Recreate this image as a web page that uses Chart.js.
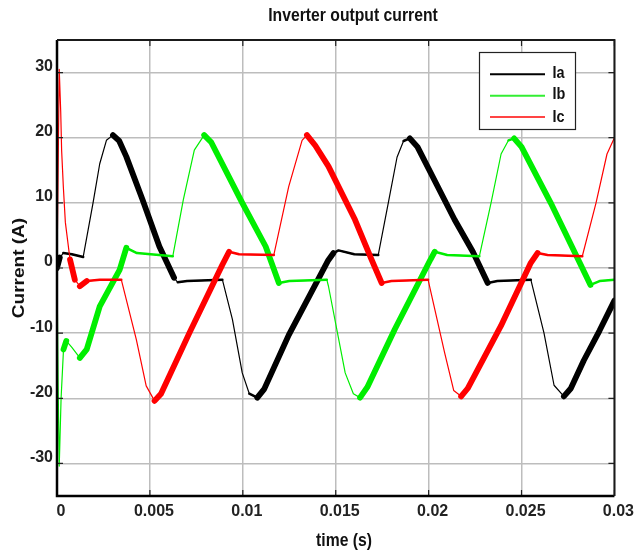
<!DOCTYPE html>
<html>
<head>
<meta charset="utf-8">
<script src="https://cdn.jsdelivr.net/npm/chart.js@4"></script>
<style>
html,body{margin:0;padding:0;background:#fff;}
#wrap{width:636px;height:553px;}
</style>
</head>
<body>
<div id="wrap"><canvas id="c" width="636" height="553"></canvas></div>
<script>
// ---- data (time in ms, current in A) ----
const seriesNames = ["Ia", "Ib", "Ic"];
const seriesColors = ["#000000", "#00ee00", "#ff0000"];
const legendColors = ["#000000", "#33ee33", "#ff4444"];

const iaTimeMs = [0,0.15,0.34,0.8,1.41,1.94,2.3,2.66,3.01,3.35,3.73,4.6,5.51,6.3,6.5,7.0,8.9,9.44,9.97,10.35,10.78,11.15,12.47,13.6,14.6,14.88,15.15,16.0,17.29,17.83,18.3,18.65,18.99,19.4,21.4,22.38,23.18,23.7,25.5,26.21,26.75,27.28,27.65,28.35,29.2,30];
const iaCurrent = [0,1.6,2.3,2.1,1.7,10,16,19.6,20.4,19.5,17.1,10.5,3.3,-1.5,-2.2,-2.0,-1.8,-7.9,-16.1,-19.3,-19.9,-18.6,-10.3,-4.2,1.2,2.3,2.7,2.1,2.0,10,17,19.5,19.9,18.6,7.4,2.5,-2.3,-2.0,-1.8,-10,-18,-19.7,-18.5,-14.2,-9.6,-5.0];

const ibTimeMs = [0,0.06,0.12,0.22,0.35,0.5,0.8,1.23,1.6,2.3,3.37,3.73,4.3,6.23,6.8,7.39,7.92,8.3,9.97,11.23,11.94,12.5,14.52,14.61,15.51,15.95,16.31,16.7,18.18,20.1,20.33,21.0,22.73,23.36,23.9,24.3,24.6,25.0,26.57,28.1,28.71,29.2,30];
const ibCurrent = [0,-18,-30.4,-20,-12.5,-11.2,-12.2,-13.8,-12.5,-5.9,-0.3,3.1,2.3,1.8,10.5,18.1,20.4,19.3,10,3.3,-2.3,-2.0,-1.8,-2.8,-16.1,-19.3,-19.9,-18.3,-9.4,1.3,2.5,2.0,1.8,10,17.5,19.6,19.9,18.6,10,1.0,-2.6,-2.0,-1.8];

const icTimeMs = [0,0.12,0.2,0.25,0.34,0.45,0.7,0.96,1.23,1.6,2.3,3.46,4.27,4.8,5.25,5.6,7.12,8.9,9.26,9.8,11.67,12.47,13.19,13.45,13.9,14.61,16.04,16.93,17.47,18.0,19.97,20.86,21.35,21.75,22.1,23.89,25.5,25.86,26.4,28.27,29.01,29.6,30];
const icCurrent = [0,30.5,24,18,12.5,7,1.3,-1.8,-2.8,-2.0,-1.8,-1.8,-11,-18.1,-20.4,-19.3,-10,0.5,2.5,2.1,2.0,12.5,19.6,20.4,18.8,15.6,7.4,1.3,-2.3,-2.0,-1.8,-13,-18.8,-19.7,-18.5,-8.9,0.8,2.3,2.0,1.8,10,17.5,20];

const xTicks = [0,0.005,0.01,0.015,0.02,0.025,0.03];
const xTickLabels = ["0","0.005","0.01","0.015","0.02","0.025","0.03"];
const yTicks = [-30,-20,-10,0,10,20,30];
const yTickLabels = ["-30","-20","-10","0","10","20","30"];

const titleText = "Inverter output current";
const xTitle = "time (s)";
const yTitle = "Current (A)";

// ---- build ----
const allT = [iaTimeMs, ibTimeMs, icTimeMs];
const allV = [iaCurrent, ibCurrent, icCurrent];

// classify a piece between two samples: switching edge, noisy plateau, or slow ramp with heavy ripple
function classify(t0, y0, t1, y1){
  const dy = y1 - y0;
  const slope = Math.abs(dy / (t1 - t0));
  if (slope < 1.5) return 'plateau';
  if (slope > 12) return 'edge';
  if (dy < 0 && y0 > -1.5) return 'ramp';
  if (dy > 0 && y0 < 1.5) return 'ramp';
  return 'edge';
}
function fullData(tms, vals){ return tms.map((t,i)=>({x:t/1000, y:vals[i]})); }
function partData(tms, vals, kind){
  const out = []; let open = false;
  for (let k = 0; k < tms.length - 1; k++){
    if (classify(tms[k], vals[k], tms[k+1], vals[k+1]) === kind){
      if (!open) out.push({x: tms[k]/1000, y: vals[k]});
      out.push({x: tms[k+1]/1000, y: vals[k+1]});
      open = true;
    } else if (open){
      out.push({x: tms[k]/1000, y: null});
      open = false;
    }
  }
  return out;
}

const datasets = [];
seriesNames.forEach((n,i)=>{
  const base = (3 - i) * 10;
  const common = { borderColor: seriesColors[i], pointRadius: 0, tension: 0, fill: false,
                   spanGaps: false, borderCapStyle: 'round', borderJoinStyle: 'round' };
  datasets.push(Object.assign({ label: n, data: fullData(allT[i], allV[i]), borderWidth: 1.2, order: base }, common));
  datasets.push(Object.assign({ label: n + ' plateau', data: partData(allT[i], allV[i], 'plateau'), borderWidth: 2.5, order: base - 1 }, common));
  datasets.push(Object.assign({ label: n + ' ripple', data: partData(allT[i], allV[i], 'ramp'), borderWidth: 5.8, order: base - 2 }, common));
});

const NARROW = '"Liberation Sans Narrow", "Liberation Sans", Arial, sans-serif';

function txt(ctx, s, x, y, font, align, baseline, rot, squeeze){
  ctx.save();
  ctx.translate(x, y);
  if (rot) { ctx.rotate(-Math.PI/2); ctx.scale(1, squeeze); }
  else ctx.scale(squeeze, 1);
  ctx.font = font;
  ctx.fillStyle = '#111';
  ctx.textAlign = align;
  ctx.textBaseline = baseline;
  ctx.fillText(s, 0, 0);
  ctx.restore();
}

const framePlugin = {
  id: 'frame',
  afterDraw(chart){
    const ctx = chart.ctx;
    const a = chart.chartArea;
    const xs = chart.scales.x, ys = chart.scales.y;
    ctx.save();
    ctx.strokeStyle = '#222';
    ctx.lineWidth = 1.2;
    xTicks.forEach(v=>{
      const px = xs.getPixelForValue(v);
      ctx.beginPath();
      ctx.moveTo(px, a.bottom); ctx.lineTo(px, a.bottom - 6);
      ctx.moveTo(px, a.top); ctx.lineTo(px, a.top + 6);
      ctx.stroke();
    });
    yTicks.forEach(v=>{
      const py = ys.getPixelForValue(v);
      ctx.beginPath();
      ctx.moveTo(a.left, py); ctx.lineTo(a.left + 6, py);
      ctx.moveTo(a.right, py); ctx.lineTo(a.right - 6, py);
      ctx.stroke();
    });
    ctx.strokeStyle = '#000';
    ctx.lineWidth = 2.5;
    ctx.beginPath();
    ctx.moveTo(a.left, a.top); ctx.lineTo(a.left, a.bottom); ctx.lineTo(a.right, a.bottom);
    ctx.stroke();
    ctx.strokeStyle = '#1a1a1a';
    ctx.lineWidth = 2;
    ctx.beginPath();
    ctx.moveTo(a.left, a.top); ctx.lineTo(a.right, a.top); ctx.lineTo(a.right, a.bottom);
    ctx.stroke();

    const lx = 479.5, ly = 52.5, lw = 96, lh = 77;
    ctx.fillStyle = '#fff';
    ctx.fillRect(lx, ly, lw, lh);
    ctx.strokeStyle = '#222';
    ctx.lineWidth = 1.2;
    ctx.strokeRect(lx, ly, lw, lh);
    const rowY = [74.3, 95.7, 117];
    const baseY = [77.5, 98.5, 121.5];
    seriesNames.forEach((n,i)=>{
      ctx.strokeStyle = legendColors[i];
      ctx.lineWidth = 2;
      ctx.beginPath();
      ctx.moveTo(490, rowY[i]); ctx.lineTo(545, rowY[i]);
      ctx.stroke();
      txt(ctx, n, 552.5, baseY[i], 'bold 17px "Liberation Sans", Arial', 'left', 'alphabetic', false, 0.85);
    });

    txt(ctx, titleText, 353, 15.5, 'bold 18.5px "Liberation Sans", Arial', 'center', 'middle', false, 0.85);
    txt(ctx, xTitle, 344, 540.5, 'bold 18.5px "Liberation Sans", Arial', 'center', 'middle', false, 0.85);
    txt(ctx, yTitle, 20, 268, 'bold 19px "Liberation Sans", Arial', 'center', 'middle', true, 0.85);
    ctx.restore();
  }
};

new Chart(document.getElementById('c'), {
  type: 'line',
  data: { datasets },
  options: {
    responsive: false,
    animation: false,
    devicePixelRatio: 1,
    layout: { padding: { top: 40, right: 18, left: 0, bottom: 0 } },
    plugins: { legend: { display: false }, tooltip: { enabled: false }, title: { display: false } },
    scales: {
      x: {
        type: 'linear', min: 0, max: 0.03,
        afterBuildTicks: s => { s.ticks = xTicks.map(v=>({value:v})); },
        afterFit: s => { s.height = 57; },
        grid: { color: '#bdbdbd', lineWidth: 1.5, drawTicks: false },
        border: { display: false },
        ticks: {
          autoSkip: false, maxRotation: 0, padding: 6, labelOffset: 4,
          color: '#222',
          font: { family: NARROW, size: 16, weight: 'bold' },
          callback: (v) => { const k = xTicks.findIndex(t=>Math.abs(t-v)<1e-9); return k>=0 ? xTickLabels[k] : ''; }
        }
      },
      y: {
        type: 'linear', min: -35, max: 35,
        afterBuildTicks: s => { s.ticks = yTicks.map(v=>({value:v})); },
        afterFit: s => { s.width = 57; },
        grid: { color: '#bdbdbd', lineWidth: 1.5, drawTicks: false },
        border: { display: false },
        ticks: {
          autoSkip: false, padding: 4, labelOffset: -6,
          color: '#222',
          font: { family: NARROW, size: 16, weight: 'bold' },
          callback: (v) => { const k = yTicks.indexOf(v); return k>=0 ? yTickLabels[k] : ''; }
        }
      }
    }
  },
  plugins: [framePlugin]
});
</script>
</body>
</html>
